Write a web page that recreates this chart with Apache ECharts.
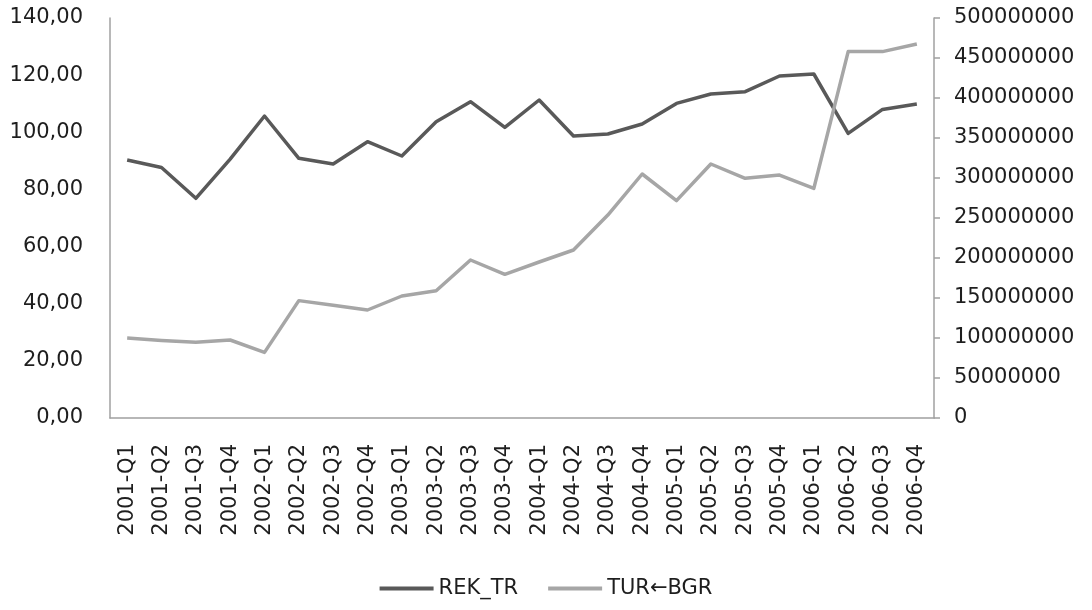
<!DOCTYPE html>
<html>
<head>
<meta charset="utf-8">
<script src="https://cdn.jsdelivr.net/npm/echarts@6/dist/echarts.min.js"></script>
<style>
  html, body { margin: 0; padding: 0; background: #fff; }
  #main { width: 1092px; height: 610px; }
</style>
</head>
<body>
<div id="main"></div>
<script>
// kategoriler (ceyrekler)
var quarters = [
  '2001-Q1','2001-Q2','2001-Q3','2001-Q4',
  '2002-Q1','2002-Q2','2002-Q3','2002-Q4',
  '2003-Q1','2003-Q2','2003-Q3','2003-Q4',
  '2004-Q1','2004-Q2','2004-Q3','2004-Q4',
  '2005-Q1','2005-Q2','2005-Q3','2005-Q4',
  '2006-Q1','2006-Q2','2006-Q3','2006-Q4'
];

// REK_TR (sol eksen)
var rekTR = [
  90.3, 87.7, 76.9, 90.6,
  105.7, 90.9, 88.9, 96.7,
  91.7, 103.7, 110.7, 101.7,
  111.3, 98.7, 99.4, 102.9,
  110.1, 113.4, 114.2, 119.7,
  120.4, 99.6, 108.0, 109.9
];

// TUR<-BGR (sag eksen)
var turBgr = [
  100000000, 97000000, 94600000, 97500000,
  82000000, 146700000, 141000000, 135000000,
  152500000, 159000000, 197500000, 179600000,
  195000000, 210000000, 253700000, 305000000,
  271700000, 317500000, 299600000, 303700000,
  287000000, 458000000, 458000000, 467500000
];

var leftTicks = { min: 0, max: 140, interval: 20 };
var rightTicks = { min: 0, max: 500000000, interval: 50000000 };

var txt = '#1e1e1e';
var axisGray = '#a0a0a0';
var font = 'DejaVu Sans';

var myChart = echarts.init(document.getElementById('main'));

var option = {
  animation: false,
  backgroundColor: '#fff',
  grid: { left: 110, right: 158, top: 18, bottom: 192 },
  legend: {
    bottom: 6,
    left: 'center',
    icon: 'rect',
    itemWidth: 54,
    itemHeight: 4,
    itemGap: 30,
    textStyle: { color: txt, fontSize: 21, fontFamily: font },
    data: ['REK_TR', 'TUR\u2190BGR']
  },
  xAxis: {
    type: 'category',
    data: quarters,
    boundaryGap: true,
    axisLine: { lineStyle: { color: axisGray, width: 1.5 } },
    axisTick: { show: false },
    axisLabel: { rotate: 90, interval: 0, margin: 26, color: txt, fontSize: 21, fontFamily: font }
  },
  yAxis: [
    {
      type: 'value',
      min: leftTicks.min, max: leftTicks.max, interval: leftTicks.interval,
      axisLine: { show: true, lineStyle: { color: axisGray, width: 1.5 } },
      axisTick: { show: false },
      splitLine: { show: false },
      axisLabel: {
        margin: 27, color: txt, fontSize: 21, fontFamily: font,
        formatter: function (v) { return v.toFixed(2).replace('.', ','); }
      }
    },
    {
      type: 'value',
      position: 'right',
      min: rightTicks.min, max: rightTicks.max, interval: rightTicks.interval,
      axisLine: { show: true, lineStyle: { color: axisGray, width: 1.5 } },
      axisTick: { show: true, length: 6, lineStyle: { color: axisGray, width: 1.5 } },
      splitLine: { show: false },
      axisLabel: {
        margin: 20, color: txt, fontSize: 21, fontFamily: font,
        formatter: function (v) { return String(v); }
      }
    }
  ],
  series: [
    {
      name: 'REK_TR',
      type: 'line',
      yAxisIndex: 0,
      data: rekTR,
      symbol: 'none',
      itemStyle: { color: '#595959' },
      lineStyle: { color: '#595959', width: 3.5, join: 'round' }
    },
    {
      name: 'TUR\u2190BGR',
      type: 'line',
      yAxisIndex: 1,
      data: turBgr,
      symbol: 'none',
      itemStyle: { color: '#a6a6a6' },
      lineStyle: { color: '#a6a6a6', width: 3.5, join: 'round' }
    }
  ]
};

myChart.setOption(option);
</script>
</body>
</html>
